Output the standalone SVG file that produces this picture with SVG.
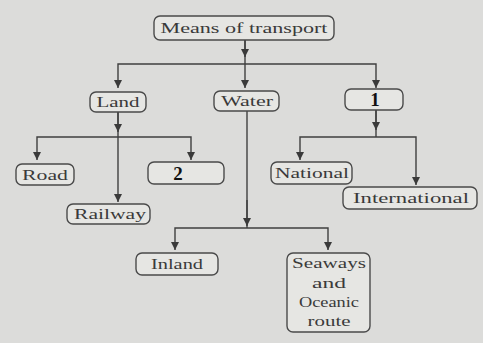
<svg xmlns="http://www.w3.org/2000/svg" width="483" height="343" viewBox="0 0 483 343">
<defs>
<marker id="ah" viewBox="0 0 10 10" refX="10" refY="5" markerWidth="8" markerHeight="8" markerUnits="userSpaceOnUse" orient="auto-start-reverse">
<path d="M0,0 L10,5 L0,10 Z" fill="#3a3a3a"/>
</marker>
<style>
.bg{fill:#dcdcda}
.box{fill:#e6e6e3;stroke:#4a4a4a;stroke-width:1.4}
.ln{fill:none;stroke:#3f3f3f;stroke-width:1.4}
.t{font-family:"Liberation Serif",serif;font-size:15px;fill:#3a3a3a;text-anchor:middle}
.h{font-family:"Liberation Serif",serif;font-size:19px;font-weight:bold;fill:#111;text-anchor:middle}
</style>
</defs>
<rect class="bg" x="0" y="0" width="483" height="343"/>
<g id="connectors">
<path class="ln" d="M245,40 V64"/>
<path class="ln" d="M245,40 V57" marker-end="url(#ah)"/>
<path class="ln" d="M118,88 V64 H376 V88" marker-start="url(#ah)" marker-end="url(#ah)"/>
<path class="ln" d="M245,64 V88" marker-end="url(#ah)"/>
<path class="ln" d="M118,112 V202" marker-end="url(#ah)"/>
<path class="ln" d="M118,112 V132" marker-end="url(#ah)"/>
<path class="ln" d="M37,160 V137 H191 V160" marker-start="url(#ah)" marker-end="url(#ah)"/>
<path class="ln" d="M247,111 V228"/>
<path class="ln" d="M247,200 V226" marker-end="url(#ah)"/>
<path class="ln" d="M175,250 V228 H328 V250" marker-start="url(#ah)" marker-end="url(#ah)"/>
<path class="ln" d="M376,110 V137"/>
<path class="ln" d="M376,110 V130" marker-end="url(#ah)"/>
<path class="ln" d="M300,160 V137 H416 V185" marker-start="url(#ah)" marker-end="url(#ah)"/>
</g>
<g id="means">
<rect class="box" x="154" y="16" width="180" height="24" rx="6"/>
<text class="t" x="244" y="33" textLength="167" lengthAdjust="spacingAndGlyphs">Means of transport</text>
</g>
<g id="land">
<rect class="box" x="90" y="92" width="56" height="20" rx="6"/>
<text class="t" x="118" y="107" textLength="43" lengthAdjust="spacingAndGlyphs">Land</text>
</g>
<g id="water">
<rect class="box" x="214" y="91" width="65" height="20" rx="6"/>
<text class="t" x="247" y="106" textLength="52" lengthAdjust="spacingAndGlyphs">Water</text>
</g>
<g id="n1">
<rect class="box" x="345" y="89" width="58" height="21" rx="6"/>
<text class="h" x="375" y="106">1</text>
</g>
<g id="road">
<rect class="box" x="16" y="164" width="58" height="21" rx="6"/>
<text class="t" x="45" y="180" textLength="46" lengthAdjust="spacingAndGlyphs">Road</text>
</g>
<g id="n2">
<rect class="box" x="148" y="162" width="76" height="22" rx="6" fill="#f4f4f2"/>
<text class="h" x="178" y="180">2</text>
</g>
<g id="railway">
<rect class="box" x="67" y="204" width="83" height="20" rx="6"/>
<text class="t" x="110" y="219" textLength="72" lengthAdjust="spacingAndGlyphs">Railway</text>
</g>
<g id="national">
<rect class="box" x="271" y="162" width="81" height="22" rx="6"/>
<text class="t" x="312" y="178" textLength="74" lengthAdjust="spacingAndGlyphs">National</text>
</g>
<g id="international">
<rect class="box" x="343" y="187" width="134" height="22" rx="6"/>
<text class="t" x="411" y="203" textLength="116" lengthAdjust="spacingAndGlyphs">International</text>
</g>
<g id="inland">
<rect class="box" x="136" y="253" width="82" height="22" rx="6"/>
<text class="t" x="177" y="269" textLength="52" lengthAdjust="spacingAndGlyphs">Inland</text>
</g>
<g id="seaways">
<rect class="box" x="287" y="253" width="83" height="79" rx="6"/>
<text class="t" x="329" y="268" textLength="74" lengthAdjust="spacingAndGlyphs">Seaways</text>
<text class="t" x="329" y="288" textLength="34" lengthAdjust="spacingAndGlyphs">and</text>
<text class="t" x="329" y="307" textLength="60" lengthAdjust="spacingAndGlyphs">Oceanic</text>
<text class="t" x="329" y="326" textLength="43" lengthAdjust="spacingAndGlyphs">route</text>
</g>
</svg>
